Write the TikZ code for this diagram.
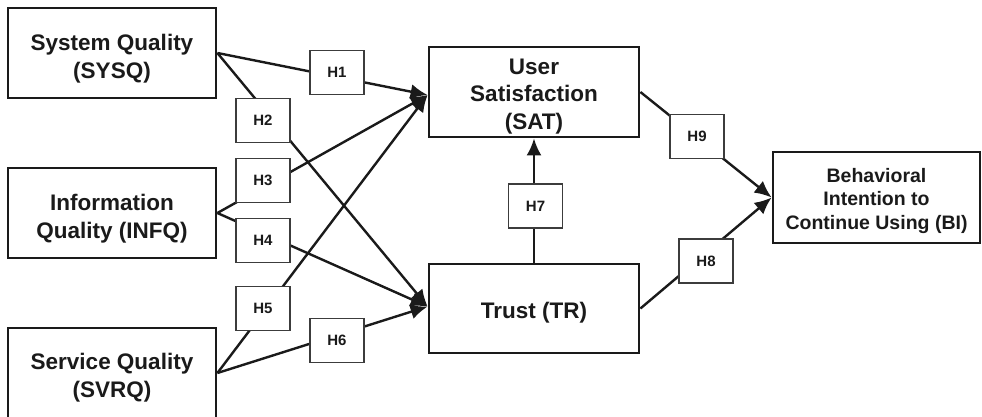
\documentclass[tikz,border=0pt]{standalone}
\usepackage{fontspec}
\setmainfont{Liberation Sans}
\usetikzlibrary{arrows.meta}
\definecolor{ink}{HTML}{1A1A1A}
\tikzset{
  mainbox/.style={draw=ink, line width=2.8pt, fill=white, inner sep=0pt},
  boxtext/.style={text=ink, align=center, inner sep=0pt,
    font=\bfseries\fontsize{22.5}{28}\selectfont},
  labbox/.style={draw=ink!85, line width=1.4pt, fill=white, text=ink, inner sep=0pt,
    minimum width=54pt, minimum height=44pt, font=\bfseries\fontsize{15}{18}\selectfont},
  conn/.style={draw=ink, line width=2.4pt},
  arr/.style={conn, -{Latex[length=17pt,width=15pt]}}
}
\begin{document}
\begin{tikzpicture}[x=1pt,y=-1pt]
\useasboundingbox (0,0) rectangle (982,416);
% main constructs
\node[mainbox, minimum width=208pt, minimum height=90pt,
  label={[boxtext,yshift=-6pt]center:System Quality\\(SYSQ)}] (SYSQ) at (112,53) {};
\node[mainbox, minimum width=208pt, minimum height=90pt,
  label={[boxtext,yshift=-6pt]center:Information\\Quality (INFQ)}] (INFQ) at (112,213) {};
\node[mainbox, minimum width=208pt, minimum height=90pt,
  label={[boxtext,yshift=-5pt]center:Service Quality\\(SVRQ)}] (SVRQ) at (112,373) {};
\node[mainbox, minimum width=210pt, minimum height=90pt,
  label={[boxtext,yshift=-4.5pt,font=\bfseries\fontsize{22.5}{27.5}\selectfont]center:User\\Satisfaction\\(SAT)}] (SAT) at (534,92) {};
\node[mainbox, minimum width=210pt, minimum height=89pt,
  label={[boxtext,yshift=-4pt]center:Trust (TR)}] (TR) at (534,308.5) {};
\node[mainbox, minimum width=207pt, minimum height=91pt,
  label={[boxtext,yshift=-3pt,font=\bfseries\fontsize{19.5}{23.5}\selectfont]center:Behavioral\\Intention to\\Continue Using (BI)}] (BI) at (876.5,197.5) {};
% connectors
\coordinate (SATin) at ([yshift=-3pt]SAT.west);
\coordinate (TRin) at ([yshift=2pt]TR.west);
\draw[arr] (SYSQ.east) -- (SATin);
\draw[arr] (SYSQ.east) -- (TRin);
\draw[arr] (INFQ.east) -- (SATin);
\draw[arr] (INFQ.east) -- (TRin);
\draw[arr] (SVRQ.east) -- (SATin);
\draw[arr] (SVRQ.east) -- (TRin);
\draw[arr] (TR.north) -- (SAT.south);
\draw[arr] (SAT.east) -- (BI.west);
\draw[arr] (TR.east) -- (BI.west);
% hypothesis labels
\node[labbox] (H1) at (337,72.5) {H1};
\node[labbox] (H2) at (263,120.5) {H2};
\node[labbox] (H3) at (263,180.5) {H3};
\node[labbox] (H4) at (263,240.5) {H4};
\node[labbox] (H5) at (263,308.5) {H5};
\node[labbox] (H6) at (337,340.5) {H6};
\node[labbox] (H7) at (535.5,206) {H7};
\node[labbox] (H8) at (706,261) {H8};
\node[labbox] (H9) at (697,136.5) {H9};
\end{tikzpicture}
\end{document}
